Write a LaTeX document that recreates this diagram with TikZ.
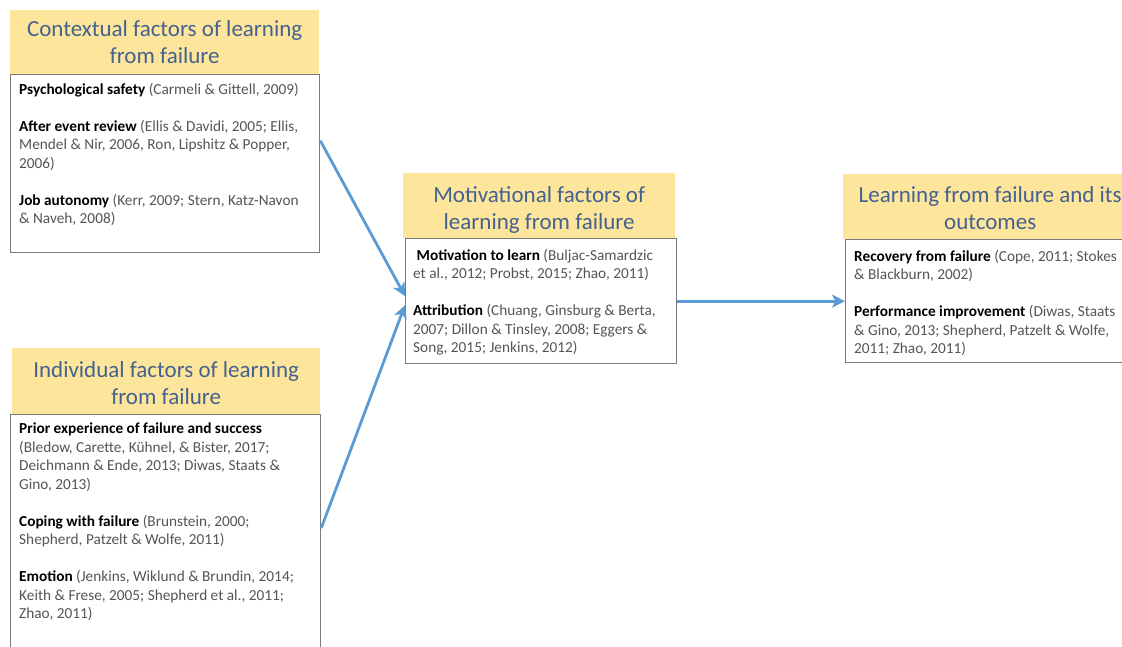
\documentclass[tikz,border=0pt]{standalone}
\usepackage{fontspec}
\setmainfont{Carlito}
\usetikzlibrary{arrows.meta}
\definecolor{hdrfill}{HTML}{FEE59C}
\definecolor{hdrtext}{HTML}{44628F}
\definecolor{boxline}{HTML}{7A7A7A}
\definecolor{cite}{HTML}{555555}
\definecolor{arrowblue}{HTML}{5B9BD5}
\tikzset{
  hdr/.style={fill=hdrfill, draw=none, anchor=north west, inner sep=0pt},
  hdrtitle/.style={inner sep=0pt, align=center, text=hdrtext, font=\fontsize{23}{27}\selectfont},
  bodybox/.style={draw=boxline, line width=1.3pt, fill=white, anchor=north west, inner sep=0pt},
  bodytext/.style={anchor=north west, inner sep=0pt, align=left,
    font=\fontsize{15.3}{18.5}\selectfont, text=cite},
  flow/.style={draw=arrowblue, line width=2.8pt, -{Stealth[length=13pt,width=13pt,inset=3.5pt]}}
}
\newcommand{\kw}[1]{\textbf{\textcolor{black}{#1}}}
\begin{document}
\begin{tikzpicture}[x=1pt,y=-1pt]
\useasboundingbox (0,0) rectangle (1122,646);
\clip (0,0) rectangle (1122,646);
% top-left
\node[hdr, minimum width=309pt, minimum height=64pt] (tlh) at (10,10) {};
\node[hdrtitle] (tlht) at ([yshift=0.5pt]tlh.center) {Contextual factors of learning\\from failure};
\node[bodybox, minimum width=309pt, minimum height=178pt] (tlbox) at (10,74) {};
\node[bodytext] (tlt) at (19,83) {\kw{Psychological safety} (Carmeli \& Gittell, 2009)\\[18.5pt]
\kw{After event review} (Ellis \& Davidi, 2005; Ellis,\\Mendel \& Nir, 2006, Ron, Lipshitz \& Popper,\\2006)\\[18.5pt]
\kw{Job autonomy} (Kerr, 2009; Stern, Katz-Navon\\\& Naveh, 2008)};
% bottom-left
\node[hdr, minimum width=308pt, minimum height=66pt] (blh) at (12,348) {};
\node[hdrtitle] (blht) at ([yshift=-1.5pt]blh.center) {Individual factors of learning\\from failure};
\node[bodybox, minimum width=310pt, minimum height=260pt] (blbox) at (10,414) {};
\node[bodytext] (blt) at (19,423) {\kw{Prior experience of failure and success}\\(Bledow, Carette, Kühnel, \& Bister, 2017;\\Deichmann \& Ende, 2013; Diwas, Staats \&\\Gino, 2013)\\[18.5pt]
\kw{Coping with failure} (Brunstein, 2000;\\Shepherd, Patzelt \& Wolfe, 2011)\\[18.5pt]
\kw{Emotion} (Jenkins, Wiklund \& Brundin, 2014;\\Keith \& Frese, 2005; Shepherd et al., 2011;\\Zhao, 2011)};
% middle
\node[hdr, minimum width=272pt, minimum height=65pt] (mh) at (403,173) {};
\node[hdrtitle] (mht) at ([yshift=-4pt]mh.center) {Motivational factors of\\learning from failure};
\node[bodybox, minimum width=271pt, minimum height=125pt] (mbox) at (405,238) {};
\node[bodytext] (mt) at (413,249) {\ \kw{Motivation to learn} (Buljac-Samardzic\\et al., 2012; Probst, 2015; Zhao, 2011)\\[18.5pt]
\kw{Attribution} (Chuang, Ginsburg \& Berta,\\2007; Dillon \& Tinsley, 2008; Eggers \&\\Song, 2015; Jenkins, 2012)};
% right
\node[hdr, minimum width=294pt, minimum height=65pt] (rh) at (843,174) {};
\node[hdrtitle] (rht) at ([yshift=-1.5pt]rh.center) {Learning from failure and its\\outcomes};
\node[bodybox, minimum width=300pt, minimum height=123pt] (rbox) at (845,239) {};
\node[bodytext] (rt) at (854,250) {\kw{Recovery from failure} (Cope, 2011; Stokes\\\& Blackburn, 2002)\\[18.5pt]
\kw{Performance improvement} (Diwas, Staats\\\& Gino, 2013; Shepherd, Patzelt \& Wolfe,\\2011; Zhao, 2011)};
% arrows
\draw[flow] ([yshift=23pt]tlbox.east) -- ([yshift=5pt]mbox.west);
\draw[flow] (blbox.east |- 0,528) -- ([yshift=-4pt]mbox.west);
\draw[flow] (mbox.east) -- (mbox.east -| rbox.west);
\end{tikzpicture}
\end{document}
